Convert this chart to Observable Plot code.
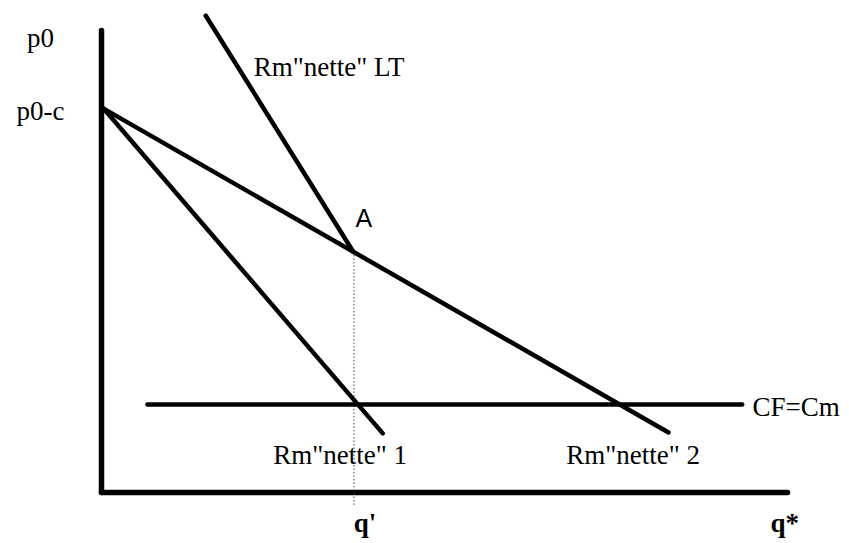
<!DOCTYPE html>
<html>
<head>
<meta charset="utf-8">
<script src="https://cdn.jsdelivr.net/npm/d3@7"></script>
<script src="https://cdn.jsdelivr.net/npm/@observablehq/plot@0.6"></script>
<style>
  html, body { margin: 0; padding: 0; background: #fff; }
  #chart svg { display: block; }
</style>
</head>
<body>
<div id="chart"></div>
<script>
// Curves (quantity on x, price on y, arbitrary units 0..100)
const curveNames = ['Rm"nette" LT', 'Rm"nette" 1', 'Rm"nette" 2', 'CF=Cm'];
const curveX1 = [15.2, 0.3, 0.3, 6.7];
const curveY1 = [103.2, 83.1, 83.1, 19.05];
const curveX2 = [36.7, 41.0, 82.65, 93.4];
const curveY2 = [52.1, 12.8, 13.0, 19.05];

// Point A (intersection of LT and 2), at q'
const pointName = "A";
const pointX = 36.8;
const pointY = 52.1;

// Tick labels
const xTickLabels = ["q'", "q*"];
const xTickValues = [36.8, 98.0];
const yTickLabels = ["p0", "p0-c"];
const yTickValues = [98.2, 82.4];

const curves = curveNames.map((name, i) => ({
  name, x1: curveX1[i], y1: curveY1[i], x2: curveX2[i], y2: curveY2[i]
}));

const serif = "Liberation Serif, Times New Roman, serif";
const labelFont = { fontSize: 27, fontFamily: serif, fill: "#000" };

const chart = Plot.plot({
  width: 849,
  height: 543,
  marginLeft: 101,
  marginRight: 62,
  marginTop: 30,
  marginBottom: 51,
  x: { domain: [0, 100], axis: null },
  y: { domain: [0, 100], axis: null },
  style: { background: "#fff", fontFamily: serif },
  marks: [
    // axes
    Plot.link([{x1: 0, y1: 0, x2: 0, y2: 100}, {x1: 0, y1: 0, x2: 100, y2: 0}], {
      x1: "x1", y1: "y1", x2: "x2", y2: "y2",
      stroke: "#000", strokeWidth: 5.5, strokeLinecap: "round", strokeLinejoin: "round"
    }),
    // dotted guide at q'
    Plot.ruleX([pointX], {
      y1: -2.8, y2: pointY, stroke: "#444", strokeWidth: 1, strokeDasharray: "1.5,2"
    }),
    // curves
    Plot.link(curves, {
      x1: "x1", y1: "y1", x2: "x2", y2: "y2",
      stroke: "#000", strokeWidth: 4.5, strokeLinecap: "round"
    }),
    // curve labels
    Plot.text([curves[0]], { x: 22.2, y: 92.1, text: "name", textAnchor: "start", ...labelFont }),
    Plot.text([curves[1]], { x: 34.8, y: 8.1, text: "name", textAnchor: "middle", ...labelFont }),
    Plot.text([curves[2]], { x: 77.5, y: 8.1, text: "name", textAnchor: "middle", ...labelFont }),
    Plot.text([curves[3]], { x: 94.9, y: 18.4, text: "name", textAnchor: "start", ...labelFont }),
    // point label A
    Plot.text([pointName], {
      x: pointX, y: pointY, text: d => d, dx: 10, dy: -33, textAnchor: "middle",
      fontSize: 25, fontFamily: "Liberation Sans, Arial, sans-serif", fill: "#000"
    }),
    // x tick labels
    Plot.text(xTickLabels, {
      x: (d, i) => xTickValues[i], y: 0, text: d => d, textAnchor: "middle", dx: 11, dy: 31,
      fontSize: 27, fontFamily: serif, fontWeight: "bold", fill: "#000"
    }),
    // y tick labels
    Plot.text(yTickLabels, {
      x: 0, y: (d, i) => yTickValues[i], text: d => d, textAnchor: "middle", dx: -61,
      ...labelFont
    })
  ]
});

document.getElementById("chart").appendChild(chart);
</script>
</body>
</html>
